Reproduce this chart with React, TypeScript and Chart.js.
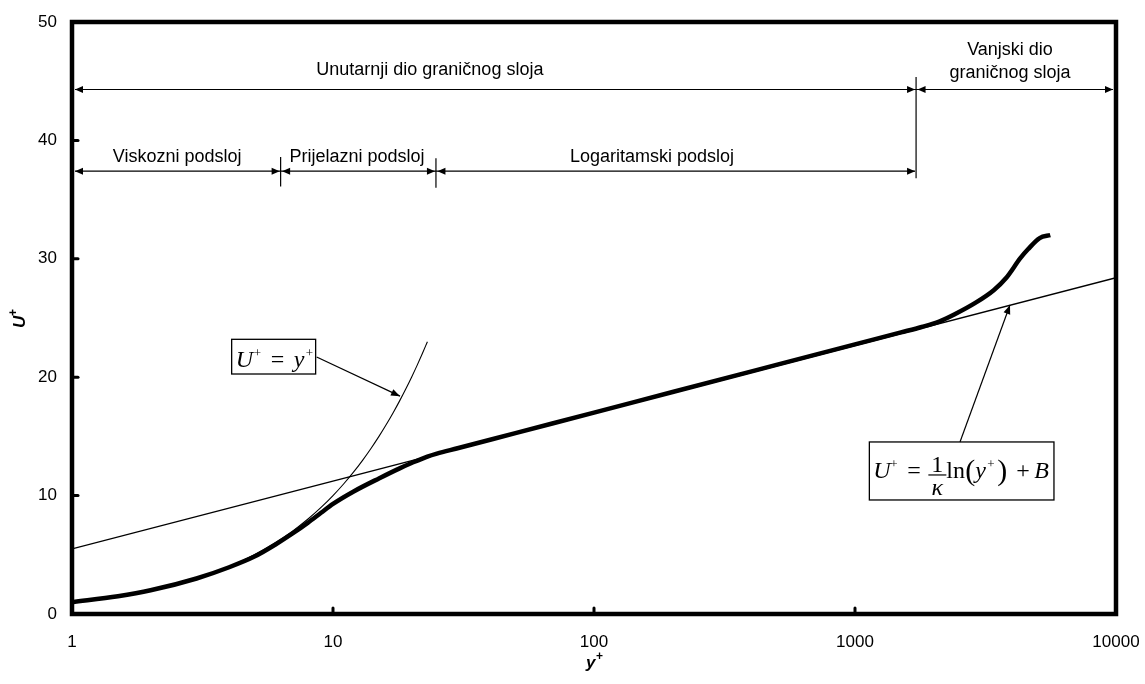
import React, { useEffect, useRef } from 'react';
import { Chart, registerables } from 'chart.js';

Chart.register(...registerables);

// ---- data ----
const yPlusTicks = [1, 10, 100, 1000, 10000];
const uTicks = [0, 10, 20, 30, 40, 50];

// thick velocity profile
const profileYPlus = [1, 1.5, 2, 3, 4, 5, 6, 7, 8, 9, 10, 12, 15, 18, 20, 23, 25, 30, 50, 100, 200, 500, 1000, 1500, 1800, 2100, 2400, 2900, 3400, 3800, 4300, 4600, 5100, 5600];
const profileU = [1.0, 1.5, 2.0, 3.0, 3.95, 4.85, 5.85, 6.8, 7.7, 8.55, 9.3, 10.35, 11.45, 12.3, 12.75, 13.3, 13.55, 14.0, 15.28, 17.01, 18.75, 21.04, 22.77, 23.78, 24.24, 24.7, 25.3, 26.3, 27.35, 28.4, 30.05, 30.8, 31.75, 32.0];

// viscous sublayer law U+ = y+
const viscousYPlus = [1, 1.5, 2, 3, 4, 5, 6, 7, 8, 9, 10, 11, 12, 13, 14, 15, 16, 17, 18, 19, 20, 21, 22, 23];
const viscousU = [1, 1.5, 2, 3, 4, 5, 6, 7, 8, 9, 10, 11, 12, 13, 14, 15, 16, 17, 18, 19, 20, 21, 22, 23];

// log law line
const logLawYPlus = [1, 10000];
const logLawU = [5.5, 28.4];

// region boundaries (y+)
const regionBounds = [1, 6.3, 24.8, 1714, 10000];
const innerLabels = ['Viskozni podsloj', 'Prijelazni podsloj', 'Logaritamski podsloj'];

const SANS = '"Liberation Sans", Arial, sans-serif';
const SERIF = '"Liberation Serif", "Times New Roman", serif';

function arrowHead(ctx: CanvasRenderingContext2D, tx: number, ty: number, dx: number, dy: number, len = 8, hw = 3.5) {
  const l = Math.hypot(dx, dy);
  const ux = dx / l, uy = dy / l;
  const bx = tx - ux * len, by = ty - uy * len;
  ctx.beginPath();
  ctx.moveTo(tx, ty);
  ctx.lineTo(bx - uy * hw, by + ux * hw);
  ctx.lineTo(bx + uy * hw, by - ux * hw);
  ctx.closePath();
  ctx.fill();
}

function line(ctx: CanvasRenderingContext2D, x1: number, y1: number, x2: number, y2: number) {
  ctx.beginPath();
  ctx.moveTo(x1, y1);
  ctx.lineTo(x2, y2);
  ctx.stroke();
}

const annotationPlugin = {
  id: 'annotations',
  afterDraw(chart: any) {
    const ctx: CanvasRenderingContext2D = chart.ctx;
    const xs = chart.scales.x, ys = chart.scales.y;
    const px = (v: number) => xs.getPixelForValue(v);
    const py = (v: number) => ys.getPixelForValue(v);
    const a = chart.chartArea;
    ctx.save();

    // frame
    ctx.strokeStyle = '#000';
    ctx.lineWidth = 4.5;
    ctx.strokeRect(a.left, a.top, a.right - a.left, a.bottom - a.top);

    // inner tick marks
    ctx.lineWidth = 3;
    ctx.lineCap = 'round';
    uTicks.slice(1, -1).forEach((u) => line(ctx, a.left, py(u), a.left + 6, py(u)));
    yPlusTicks.slice(1, -1).forEach((v) => line(ctx, px(v), a.bottom, px(v), a.bottom - 6));
    ctx.lineCap = 'butt';

    // region arrows
    ctx.fillStyle = '#000';
    ctx.strokeStyle = '#000';
    ctx.lineWidth = 1.2;
    const row1 = py(44.3), row2 = py(37.4);
    const b = regionBounds.map(px);
    // row 1
    line(ctx, b[0] + 3, row1, b[4] - 3, row1);
    arrowHead(ctx, b[0] + 3, row1, -1, 0);
    arrowHead(ctx, b[3] - 1, row1, 1, 0);
    arrowHead(ctx, b[3] + 1.5, row1, -1, 0);
    arrowHead(ctx, b[4] - 3, row1, 1, 0);
    // row 2
    line(ctx, b[0] + 3, row2, b[3] - 1, row2);
    arrowHead(ctx, b[0] + 3, row2, -1, 0);
    arrowHead(ctx, b[1] - 1, row2, 1, 0);
    arrowHead(ctx, b[1] + 1.5, row2, -1, 0);
    arrowHead(ctx, b[2] - 1, row2, 1, 0);
    arrowHead(ctx, b[2] + 1.5, row2, -1, 0);
    arrowHead(ctx, b[3] - 1, row2, 1, 0);
    // separators
    line(ctx, b[1], py(38.6), b[1], py(36.1));
    line(ctx, b[2], py(38.5), b[2], py(36.0));
    line(ctx, b[3], py(45.35), b[3], py(36.8));

    // region texts
    ctx.font = `18px ${SANS}`;
    ctx.textAlign = 'center';
    ctx.textBaseline = 'alphabetic';
    ctx.fillText('Unutarnji dio graničnog sloja', px(23.5), py(45.55));
    ctx.fillText('Vanjski dio', px(3925), py(47.2));
    ctx.fillText('graničnog sloja', px(3925), py(45.27));
    const rowTextU = 38.18;
    ctx.fillText(innerLabels[0], px(2.53), py(rowTextU));
    ctx.fillText(innerLabels[1], px(12.36), py(rowTextU));
    ctx.fillText(innerLabels[2], px(166.8), py(rowTextU));

    // formula box 1: U+ = y+
    const b1x = px(4.09), b1y = py(23.2), b1r = px(8.58), b1b = py(20.27);
    ctx.fillStyle = '#fff';
    ctx.fillRect(b1x, b1y, b1r - b1x, b1b - b1y);
    ctx.strokeStyle = '#000';
    ctx.lineWidth = 1.3;
    ctx.strokeRect(b1x, b1y, b1r - b1x, b1b - b1y);
    ctx.fillStyle = '#000';
    ctx.textAlign = 'left';
    const base1 = b1y + 28;
    ctx.font = `italic 24px ${SERIF}`;
    ctx.fillText('U', b1x + 4, base1);
    ctx.font = `13px ${SERIF}`;
    ctx.fillText('+', b1x + 22, base1 - 10);
    ctx.font = `24px ${SERIF}`;
    ctx.fillText('=', b1x + 39, base1);
    ctx.font = `italic 24px ${SERIF}`;
    ctx.fillText('y', b1x + 62, base1);
    ctx.font = `13px ${SERIF}`;
    ctx.fillText('+', b1x + 74, base1 - 10);
    // arrow 1
    ctx.lineWidth = 1.2;
    const a1x1 = b1r + 1, a1y1 = py(21.7), a1x2 = px(18.06), a1y2 = py(18.4);
    line(ctx, a1x1, a1y1, a1x2, a1y2);
    arrowHead(ctx, a1x2, a1y2, a1x2 - a1x1, a1y2 - a1y1, 9, 3.5);

    // formula box 2: U+ = 1/k ln(y+) + B
    const b2x = px(1135), b2y = py(14.53), b2r = px(5785), b2b = py(9.63);
    ctx.fillStyle = '#fff';
    ctx.fillRect(b2x, b2y, b2r - b2x, b2b - b2y);
    ctx.lineWidth = 1.3;
    ctx.strokeRect(b2x, b2y, b2r - b2x, b2b - b2y);
    ctx.fillStyle = '#000';
    const base2 = b2y + 36;
    ctx.font = `italic 24px ${SERIF}`;
    ctx.fillText('U', b2x + 4, base2);
    ctx.font = `13px ${SERIF}`;
    ctx.fillText('+', b2x + 21, base2 - 10);
    ctx.font = `24px ${SERIF}`;
    ctx.fillText('=', b2x + 38, base2);
    ctx.textAlign = 'center';
    ctx.fillText('1', b2x + 68, b2y + 30);
    ctx.font = `italic 24px ${SERIF}`;
    ctx.fillText('κ', b2x + 68, b2y + 53);
    ctx.lineWidth = 1.2;
    line(ctx, b2x + 59, b2y + 33, b2x + 77, b2y + 33);
    ctx.textAlign = 'left';
    ctx.font = `24px ${SERIF}`;
    ctx.fillText('ln', b2x + 77, base2);
    ctx.font = `30px ${SERIF}`;
    ctx.fillText('(', b2x + 96, base2 + 2);
    ctx.font = `italic 24px ${SERIF}`;
    ctx.fillText('y', b2x + 106, base2);
    ctx.font = `13px ${SERIF}`;
    ctx.fillText('+', b2x + 118, base2 - 10);
    ctx.font = `30px ${SERIF}`;
    ctx.fillText(')', b2x + 128, base2 + 2);
    ctx.font = `24px ${SERIF}`;
    ctx.fillText('+', b2x + 147, base2);
    ctx.font = `italic 24px ${SERIF}`;
    ctx.fillText('B', b2x + 165, base2);
    // arrow 2
    const a2x1 = px(2525), a2y1 = b2y, a2x2 = px(3925), a2y2 = py(26.1);
    ctx.lineWidth = 1.2;
    line(ctx, a2x1, a2y1, a2x2, a2y2);
    arrowHead(ctx, a2x2, a2y2, a2x2 - a2x1, a2y2 - a2y1, 9, 3.5);

    // axis titles
    ctx.fillStyle = '#000';
    ctx.textAlign = 'left';
    ctx.font = `bold italic 17px ${SANS}`;
    const xTitleX = (a.left + a.right) / 2 - 8;
    ctx.fillText('y', xTitleX, 668);
    ctx.font = `bold 12px ${SANS}`;
    ctx.fillText('+', xTitleX + 10, 660);

    ctx.save();
    ctx.translate(25, (a.top + a.bottom) / 2 + 10);
    ctx.rotate(-Math.PI / 2);
    ctx.font = `bold italic 17px ${SANS}`;
    ctx.fillText('U', 0, 0);
    ctx.font = `bold 12px ${SANS}`;
    ctx.fillText('+', 12, -8);
    ctx.restore();

    ctx.restore();
  },
};

export default function App() {
  const ref = useRef<HTMLCanvasElement>(null);
  useEffect(() => {
    if (!ref.current) return;
    const toPts = (xs: number[], ys: number[]) => xs.map((x, i) => ({ x, y: ys[i] }));
    const chart = new Chart(ref.current, {
      type: 'line',
      data: {
        datasets: [
          {
            label: 'log law',
            data: toPts(logLawYPlus, logLawU),
            borderColor: '#000',
            borderWidth: 1.3,
            pointRadius: 0,
            fill: false,
          },
          {
            label: 'viscous',
            data: toPts(viscousYPlus, viscousU),
            borderColor: '#000',
            borderWidth: 1.1,
            pointRadius: 0,
            cubicInterpolationMode: 'monotone',
            fill: false,
          },
          {
            label: 'profile',
            data: toPts(profileYPlus, profileU),
            borderColor: '#000',
            borderWidth: 4.5,
            pointRadius: 0,
            cubicInterpolationMode: 'monotone',
            fill: false,
          },
        ],
      },
      options: {
        animation: false,
        responsive: true,
        maintainAspectRatio: false,
        layout: { padding: { top: 22, right: 29, left: 0, bottom: 0 } },
        plugins: { legend: { display: false }, tooltip: { enabled: false } },
        scales: {
          x: {
            type: 'logarithmic',
            min: 1,
            max: 10000,
            afterBuildTicks: (s: any) => {
              s.ticks = yPlusTicks.map((v) => ({ value: v }));
            },
            afterFit: (s: any) => {
              s.height = 70;
            },
            ticks: {
              callback: (v: any) => String(v),
              font: { family: SANS, size: 17 },
              color: '#000',
              padding: 0,
              maxRotation: 0,
              autoSkip: false,
            },
            grid: { display: false, drawTicks: true, tickLength: 18 },
            border: { display: false },
          },
          y: {
            type: 'linear',
            min: 0,
            max: 50,
            afterBuildTicks: (s: any) => {
              s.ticks = uTicks.map((v) => ({ value: v }));
            },
            afterFit: (s: any) => {
              s.width = 72;
            },
            ticks: {
              font: { family: SANS, size: 17 },
              color: '#000',
              padding: 0,
            },
            grid: { display: false, drawTicks: true, tickLength: 15 },
            border: { display: false },
          },
        },
      },
      plugins: [annotationPlugin],
    } as any);
    return () => chart.destroy();
  }, []);
  return (
    <div style={{ position: 'fixed', left: 0, top: 0, width: 1145, height: 684, background: '#fff' }}>
      <canvas ref={ref} />
    </div>
  );
}
